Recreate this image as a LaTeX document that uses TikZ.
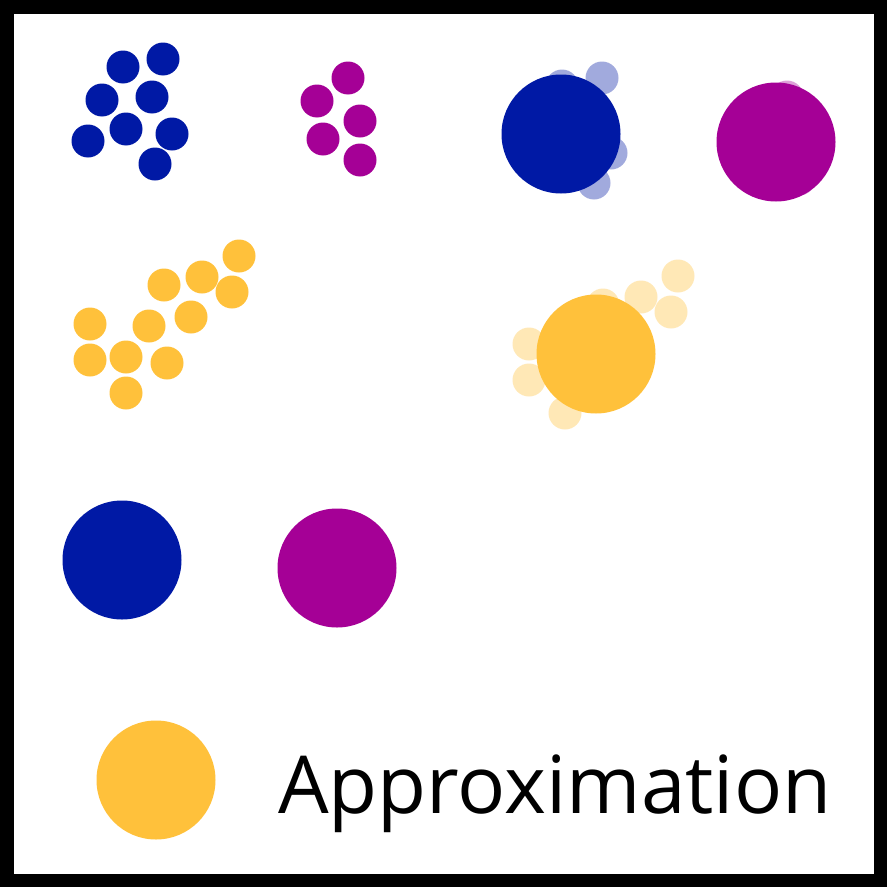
\documentclass[tikz,border=0pt]{standalone}
\usepackage{fontspec}
\setmainfont{Open Sans}
\definecolor{cblue}{RGB}{0,25,165}
\definecolor{cmag}{RGB}{165,0,150}
\definecolor{cyel}{RGB}{255,193,59}
\tikzset{
  dot/.style={fill=#1},
  faded/.style={fill=#1, fill opacity=0.37},
}
\begin{document}
\begin{tikzpicture}[x=1bp,y=-1bp]
\useasboundingbox (0,0) rectangle (887,887);
\fill[black] (0,0) rectangle (887,887);
\fill[white] (13.5,13.5) rectangle (873.5,873.5);
% clusters
\foreach \x/\y in {123/67,163/59,102/100,152/97,88/141,126/129,172/134,155/164}{
  \fill[dot=cblue] (\x,\y) circle[radius=16.5];
  \fill[faded=cblue] (\x+439,\y+19) circle[radius=16.5];
}
\foreach \x/\y in {348/78,317/101,360/121,323/139,360/160}{
  \fill[dot=cmag] (\x,\y) circle[radius=16.5];
  \fill[faded=cmag] (\x+439,\y+19) circle[radius=16.5];
}
\foreach \x/\y in {239/256,202/277,164/285,232/292,191/317,149/326,90/324,90/360,126/357,167/363,126/393}{
  \fill[dot=cyel] (\x,\y) circle[radius=16.5];
  \fill[faded=cyel] (\x+439,\y+20) circle[radius=16.5];
}
% approximations
\fill[dot=cblue] (561,134) circle[radius=59.5];
\fill[dot=cmag] (776,142) circle[radius=59.5];
\fill[dot=cyel] (596,354) circle[radius=59.5];
% bottom
\fill[dot=cblue] (122,560) circle[radius=59.5];
\fill[dot=cmag] (337,568) circle[radius=59.5];
\fill[dot=cyel] (156,780) circle[radius=59.5];
\node[anchor=base west, inner sep=0pt, font=\fontsize{80bp}{92bp}\selectfont] (lbl) at (278,813) {Approximation};
\end{tikzpicture}
\end{document}
